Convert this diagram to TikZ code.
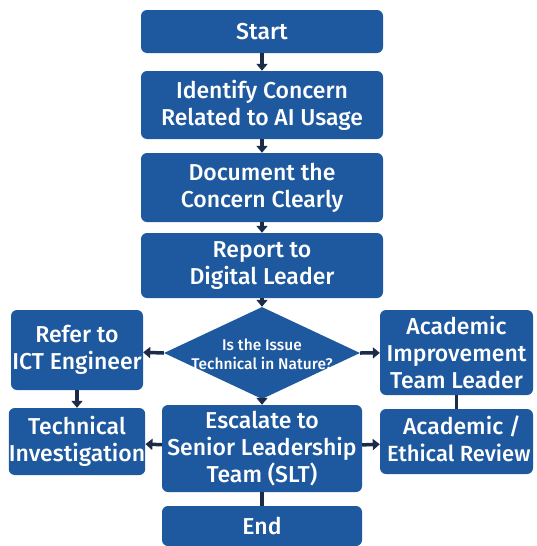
\documentclass[tikz,border=0pt]{standalone}
\usepackage{fontspec}
\setmainfont{Fira Sans}[UprightFont=* Medium]
\usetikzlibrary{shapes.geometric,arrows.meta}
\definecolor{boxblue}{RGB}{30,88,158}
\definecolor{arrownavy}{RGB}{27,43,72}
\begin{document}
\begin{tikzpicture}[x=1pt,y=-1pt,
  box/.style={draw=none,fill=boxblue,rounded corners=6pt,text=white,align=center,
    inner sep=0pt,font=\fontsize{23}{27}\selectfont},
  conn/.style={draw=arrownavy,line width=3.5pt,-{Triangle[length=7pt,width=11pt]}},
  plain/.style={draw=arrownavy,line width=3.5pt}]
\useasboundingbox (0,0) rectangle (536,546);
\fill[white] (0,0) rectangle (536,546);
\node[box,minimum width=242pt,minimum height=43pt] (start) at (262,31.5) {Start};
\node[box,minimum width=242pt,minimum height=68pt] (ident) at (262,105) {Identify Concern\\Related to AI Usage};
\node[box,minimum width=242pt,minimum height=69pt] (doc) at (262,187.5) {Document the\\Concern Clearly};
\node[box,minimum width=242pt,minimum height=65pt] (rep) at (262,265.5) {Report to\\Digital Leader};
\node[diamond,fill=boxblue,inner sep=0pt,minimum width=196pt,minimum height=92pt] (dia) at (262,353) {};
\node[text=white,align=center,font=\fontsize{15.5}{19}\selectfont] (diatext) at (262,354) {Is the Issue\\Technical in Nature?};
\node[box,minimum width=132pt,minimum height=80pt] (refer) at (77,350) {Refer to\\ICT Engineer};
\node[box,minimum width=132pt,minimum height=67pt] (tech) at (77,441.5) {Technical\\Investigation};
\node[box,minimum width=200pt,minimum height=87pt] (esc) at (262,448.5) {Escalate to\\Senior Leadership\\Team (SLT)};
\node[box,minimum width=153pt,minimum height=85pt] (acad) at (456.5,352.5) {Academic\\Improvement\\Team Leader};
\node[box,minimum width=153pt,minimum height=65pt] (eth) at (456.5,441.5) {};
\node[text=white,font=\fontsize{23}{27}\selectfont,anchor=base] (ethA) at (462,434) {Academic /};
\node[text=white,font=\fontsize{22}{27}\selectfont,anchor=base west,inner sep=0pt] (ethB) at (387,461) {Ethical Review};
\node[box,minimum width=200pt,minimum height=40pt] (end) at (262,526) {End};
\draw[conn] (start) -- (ident);
\draw[conn] (ident) -- (doc);
\draw[conn] (doc) -- (rep);
\draw[conn] (rep) -- (dia);
\draw[conn] (dia.west) -- (refer);
\draw[conn] (dia.east) -- (acad);
\draw[conn] (dia.south) -- (esc);
\draw[conn] (refer) -- (tech);
\draw[plain] (acad) -- (eth);
\draw[conn] (esc) -- (tech);
\draw[conn] (esc) -- (eth);
\draw[plain] (esc) -- (end);
\end{tikzpicture}
\end{document}
